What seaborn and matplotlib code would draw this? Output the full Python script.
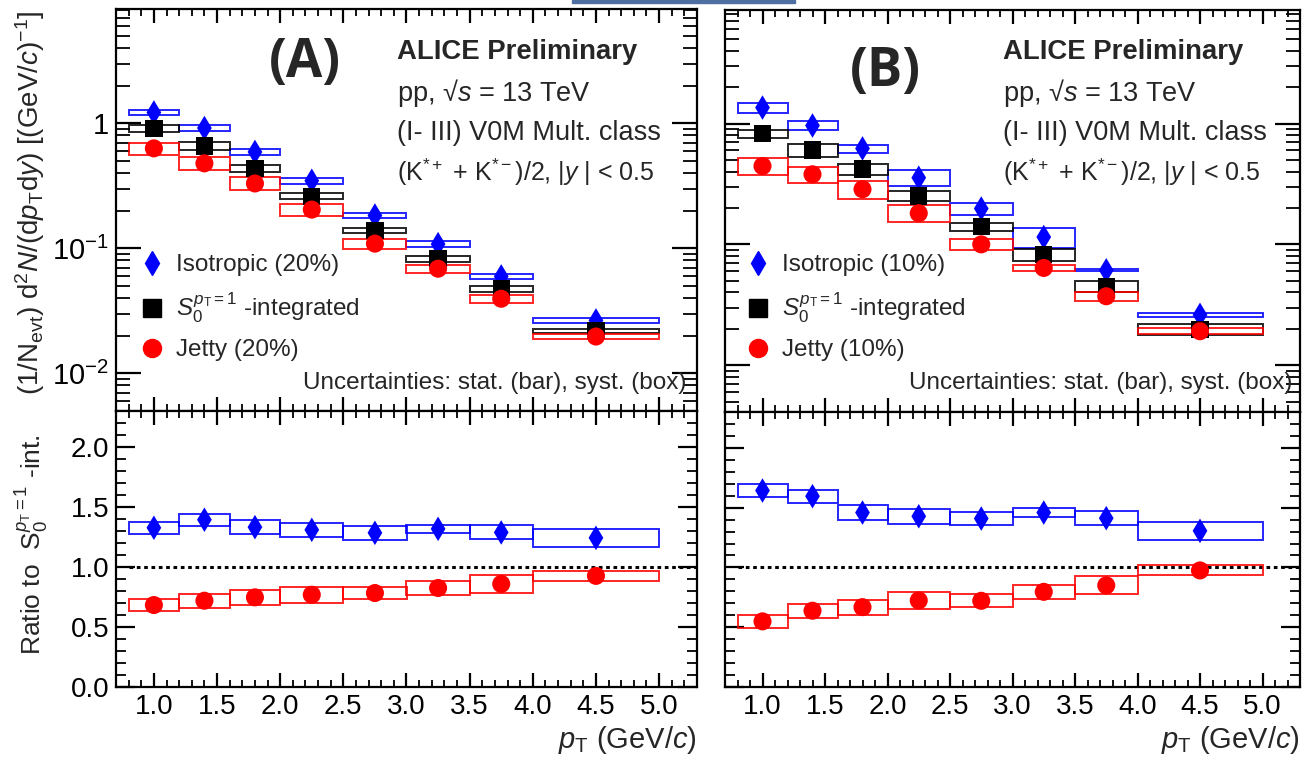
import numpy as np
import pandas as pd
import matplotlib
matplotlib.use("Agg")
import matplotlib.pyplot as plt
from matplotlib.patches import Rectangle
from matplotlib.lines import Line2D
from matplotlib.ticker import MultipleLocator, FixedLocator, NullFormatter
import seaborn as sns

# ---------------- data ----------------
pt_lo = [0.8, 1.2, 1.6, 2.0, 2.5, 3.0, 3.5, 4.0]
pt_hi = [1.2, 1.6, 2.0, 2.5, 3.0, 3.5, 4.0, 5.0]
pt_center = [1.0, 1.4, 1.8, 2.25, 2.75, 3.25, 3.75, 4.5]

# (A): 20% classes -- spectra and relative systematic uncertainties
iso_A = [1.22, 0.916, 0.59, 0.347, 0.183, 0.108, 0.0596, 0.0265]
int_A = [0.91, 0.657, 0.435, 0.261, 0.139, 0.0826, 0.0475, 0.022]
jet_A = [0.63, 0.478, 0.33, 0.204, 0.109, 0.0687, 0.0395, 0.0197]
iso_A_sys = [0.05, 0.05, 0.053, 0.057, 0.05, 0.05, 0.05, 0.04]
int_A_sys = [0.06, 0.07, 0.063, 0.057, 0.05, 0.053, 0.057, 0.038]
jet_A_sys = [0.11, 0.117, 0.12, 0.11, 0.097, 0.08, 0.073, 0.05]

# (B): 10% classes
iso_B = [1.355, 0.963, 0.622, 0.356, 0.198, 0.115, 0.061, 0.0261]
int_B = [0.828, 0.603, 0.42, 0.252, 0.14, 0.082, 0.045, 0.0198]
jet_B = [0.445, 0.38, 0.286, 0.181, 0.1, 0.0638, 0.0372, 0.0191]
iso_B_sys = [0.10, 0.08, 0.075, 0.15, 0.11, 0.19, 0.02, 0.04]
int_B_sys = [0.075, 0.125, 0.10, 0.09, 0.08, 0.11, 0.10, 0.11]
jet_B_sys = [0.16, 0.16, 0.17, 0.16, 0.11, 0.06, 0.09, 0.055]

# ratios to the S0-integrated spectrum (absolute systematic half-heights)
iso_ratio_A = [1.327, 1.394, 1.332, 1.31, 1.285, 1.318, 1.288, 1.243]
iso_ratio_A_sys = [0.05, 0.05, 0.06, 0.06, 0.058, 0.036, 0.058, 0.073]
jet_ratio_A = [0.683, 0.719, 0.747, 0.769, 0.783, 0.825, 0.859, 0.926]
jet_ratio_A_sys = [0.053, 0.06, 0.06, 0.068, 0.05, 0.057, 0.077, 0.04]

iso_ratio_B = [1.643, 1.596, 1.459, 1.428, 1.409, 1.459, 1.412, 1.306]
iso_ratio_B_sys = [0.052, 0.054, 0.06, 0.062, 0.058, 0.039, 0.06, 0.074]
jet_ratio_B = [0.549, 0.638, 0.668, 0.724, 0.721, 0.796, 0.85, 0.975]
jet_ratio_B_sys = [0.056, 0.06, 0.062, 0.071, 0.056, 0.061, 0.075, 0.042]

stat_rel = 0.02  # statistical uncertainties are small (mostly hidden by markers)

x_ticks = [1.0, 1.5, 2.0, 2.5, 3.0, 3.5, 4.0, 4.5, 5.0]
x_tick_labels = ["1.0", "1.5", "2.0", "2.5", "3.0", "3.5", "4.0", "4.5", "5.0"]
ratio_ticks = [0.0, 0.5, 1.0, 1.5, 2.0]
ratio_tick_labels = ["0.0", "0.5", "1.0", "1.5", "2.0"]
log_ticks = [1e-2, 1e-1, 1.0]
log_tick_labels = [r"$10^{-2}$", r"$10^{-1}$", "1"]

# ---------------- style ----------------
sns.set_style("ticks")
plt.rcParams.update({
    "font.family": ["Liberation Sans", "DejaVu Sans"],
    "mathtext.fontset": "custom",
    "mathtext.rm": "Liberation Sans",
    "mathtext.it": "Liberation Sans:italic",
    "mathtext.bf": "Liberation Sans:bold",
    "axes.linewidth": 1.6,
    "axes.edgecolor": "black",
    "xtick.direction": "in",
    "ytick.direction": "in",
    "xtick.top": True,
    "ytick.right": True,
    "xtick.color": "black",
    "ytick.color": "black",
})

W, H = 1309, 763
fig = plt.figure(figsize=(W / 100, H / 100), dpi=100)


def fx(x):
    return x / W


def fy(y):
    return 1 - y / H


def rect(left, top, right, bottom):
    return [fx(left), fy(bottom), fx(right) - fx(left), (bottom - top) / H]


BLUE, BLACK, RED = "#0000ff", "#000000", "#ff0000"
MS_D, MS_S, MS_O = 12.5, 12.5, 13.0


def draw_boxes(ax, vals, half, color, relative):
    for lo, hi, v, h in zip(pt_lo, pt_hi, vals, half):
        d = v * h if relative else h
        ax.add_patch(Rectangle((lo, v - d), hi - lo, 2 * d, fill=False,
                               edgecolor=color, lw=1.4, alpha=0.85, zorder=2))


def draw_points(ax, vals, color, marker, ms):
    df = pd.DataFrame({"pt": pt_center, "val": vals})
    err = [v * stat_rel for v in vals]
    ax.errorbar(df["pt"], df["val"], yerr=err, fmt="none", ecolor=color,
                elinewidth=1.5, zorder=3)
    sns.scatterplot(data=df, x="pt", y="val", marker=marker, color=color,
                    s=ms ** 2, edgecolor="none", linewidth=0, ax=ax,
                    legend=False, zorder=4)


def style_x(ax, labels):
    ax.set_xlim(0.7, 5.3)
    ax.xaxis.set_major_locator(FixedLocator(x_ticks))
    ax.xaxis.set_minor_locator(MultipleLocator(0.1))
    if labels:
        ax.set_xticklabels(x_tick_labels)
    else:
        ax.xaxis.set_major_formatter(NullFormatter())
    ax.tick_params(axis="x", which="major", length=10, width=1.6,
                   labelsize=20, pad=5)
    ax.tick_params(axis="x", which="minor", length=5, width=1.3)
    ax.set_xlabel("")


def panel(left, right, top_t, mid, bottom, ylim_top, spectra, systs, ratios,
          rsysts, tag, tag_xy, pct, dx, show_y):
    ax_t = fig.add_axes(rect(left, top_t, right, mid))
    ax_b = fig.add_axes(rect(left, mid, right, bottom))

    # --- spectra ---
    ax_t.set_yscale("log")
    ax_t.set_ylim(*ylim_top)
    iso, inte, jet = spectra
    iso_s, int_s, jet_s = systs
    draw_boxes(ax_t, iso, iso_s, BLUE, True)
    draw_boxes(ax_t, inte, int_s, BLACK, True)
    draw_boxes(ax_t, jet, jet_s, RED, True)
    draw_points(ax_t, iso, BLUE, "d", MS_D)
    draw_points(ax_t, inte, BLACK, "s", MS_S)
    draw_points(ax_t, jet, RED, "o", MS_O)
    style_x(ax_t, False)
    ax_t.set_ylim(*ylim_top)
    ax_t.yaxis.set_major_locator(FixedLocator(log_ticks))
    ax_t.yaxis.set_minor_locator(FixedLocator(
        [m * 10.0 ** e for e in (-3, -2, -1, 0) for m in range(2, 10)]))
    if show_y:
        ax_t.set_yticklabels(log_tick_labels)
    else:
        ax_t.yaxis.set_major_formatter(NullFormatter())
    ax_t.yaxis.set_minor_formatter(NullFormatter())
    ax_t.tick_params(axis="y", which="major", length=18, width=1.6,
                     labelsize=21, pad=5)
    ax_t.tick_params(axis="y", which="minor", length=10, width=1.3)
    ax_t.set_ylabel("")

    # --- ratios ---
    ax_b.set_ylim(0, 2.3)
    iso_r, jet_r = ratios
    iso_rs, jet_rs = rsysts
    draw_boxes(ax_b, iso_r, iso_rs, BLUE, False)
    draw_boxes(ax_b, jet_r, jet_rs, RED, False)
    ax_b.plot([pt_lo[0], 5.3], [1.0, 1.0], ls=(0, (1.2, 1.2)), color="black",
              lw=2.2, zorder=1)
    draw_points(ax_b, iso_r, BLUE, "d", MS_D)
    draw_points(ax_b, jet_r, RED, "o", MS_O)
    style_x(ax_b, True)
    ax_b.set_ylim(0, 2.3)
    ax_b.yaxis.set_major_locator(FixedLocator(ratio_ticks))
    ax_b.yaxis.set_minor_locator(MultipleLocator(0.1))
    if show_y:
        ax_b.set_yticklabels(ratio_tick_labels)
    else:
        ax_b.yaxis.set_major_formatter(NullFormatter())
    ax_b.tick_params(axis="y", which="major", length=14, width=1.6,
                     labelsize=20, pad=5)
    ax_b.tick_params(axis="y", which="minor", length=7, width=1.3)
    ax_b.set_ylabel("")

    # --- text ---
    fig.text(fx(tag_xy[0]), fy(tag_xy[1]), tag, fontsize=38,
             fontweight="bold", family=["Open Sans", "DejaVu Sans"],
             ha="center", va="center")
    fig.text(fx(397 + dx), fy(52), "ALICE Preliminary", fontsize=19.8,
             fontweight="bold", ha="left", va="center")
    fig.text(fx(397 + dx), fy(93), "pp, \u221a$s$ = 13 TeV", fontsize=19.5,
             ha="left", va="center")
    fig.text(fx(397 + dx), fy(133), "(I- III) V0M Mult. class", fontsize=19.5,
             ha="left", va="center")
    fig.text(fx(397 + dx), fy(172),
             r"(K$^{*+}$ + K$^{*-}$)/2, |$y$ | < 0.5", fontsize=18,
             ha="left", va="center")
    fig.text(fx(686 + dx), fy(383), "Uncertainties: stat. (bar), syst. (box)",
             fontsize=17.5, ha="right", va="center")
    fig.text(fx(right), fy(740), r"$p_{\rm T}$ (GeV/$c$)", fontsize=21,
             ha="right", va="center")

    # legend entries
    entries = [
        (Line2D([], [], marker="d", ls="", color=BLUE, ms=MS_D),
         f"Isotropic ({pct})", 265),
        (Line2D([], [], marker="s", ls="", color=BLACK, ms=MS_S),
         r"$S_{0}^{p_{\rm T}=1}$ -integrated", 308),
        (Line2D([], [], marker="o", ls="", color=RED, ms=MS_O),
         f"Jetty ({pct})", 350),
    ]
    for h, lab, yy in entries:
        fig.legend(handles=[h], labels=[lab], loc="center left",
                   bbox_to_anchor=(fx(140 + dx), fy(yy)), frameon=False,
                   fontsize=17.5, handlelength=1.0, handletextpad=0.5,
                   borderpad=0, borderaxespad=0)
    return ax_t, ax_b


panel(116, 697, 9, 411, 687, (0.005, 8.2),
      (iso_A, int_A, jet_A), (iso_A_sys, int_A_sys, jet_A_sys),
      (iso_ratio_A, jet_ratio_A), (iso_ratio_A_sys, jet_ratio_A_sys),
      "(A)", (305, 63), "20%", 0, True)
panel(725, 1300, 10, 412, 687, (0.0041, 8.7),
      (iso_B, int_B, jet_B), (iso_B_sys, int_B_sys, jet_B_sys),
      (iso_ratio_B, jet_ratio_B), (iso_ratio_B_sys, jet_ratio_B_sys),
      "(B)", (885, 72), "10%", 606, False)

# axis titles
fig.text(fx(30), fy(203),
         r"(1/N$_{\rm evt}$) d$^{2}$$N$/(d$p_{\rm T}$d$y$) [(GeV/$c$)$^{-1}$]",
         fontsize=20, rotation=90, ha="center", va="center")
fig.text(fx(32), fy(545), r"Ratio to  S$_{0}^{p_{\rm T}=1}$ -int.",
         fontsize=19, rotation=90, ha="center", va="center")

# thin header strip at the top edge
fig.patches.append(Rectangle((fx(572), fy(3)), fx(795) - fx(572), 3 / H,
                             transform=fig.transFigure, color="#4f6fa3",
                             zorder=5))

fig.savefig("out.png", dpi=100)
